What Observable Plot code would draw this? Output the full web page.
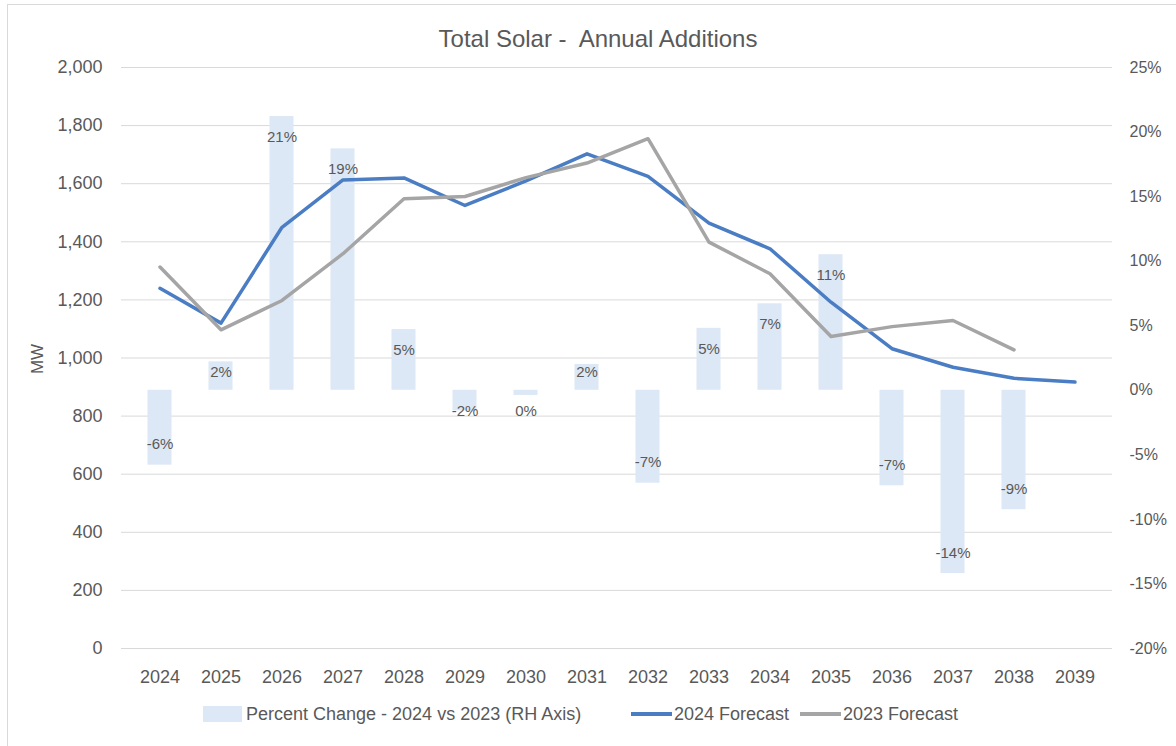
<!DOCTYPE html>
<html>
<head>
<meta charset="utf-8">
<script src="https://cdn.jsdelivr.net/npm/d3@7"></script>
<script src="https://cdn.jsdelivr.net/npm/@observablehq/plot@0.6"></script>
<style>
  body { margin: 0; background: #fff; font-family: "Liberation Sans", Arial, sans-serif; color: #595959; }
  #wrap { position: relative; width: 1176px; height: 746px; overflow: hidden; }
  #frame { position: absolute; left: 7px; top: 4px; width: 1180px; height: 750px; border: 1px solid #d9d9d9; box-sizing: border-box; }
  #title { position: absolute; left: 0; width: 1196px; top: 27px; text-align: center; font-size: 24px; line-height: 24px; white-space: pre; }
  #ylabel { position: absolute; left: 37px; top: 359px; font-size: 17px; line-height: 17px; transform: translate(-50%, -50%) rotate(-90deg); white-space: nowrap; }
  #chart { position: absolute; left: 0; top: 0; }
  .leg { position: absolute; top: 705px; font-size: 18px; line-height: 18px; white-space: pre; }
  .sw { position: absolute; }
</style>
</head>
<body>
<div id="wrap">
  <div id="frame"></div>
  <div id="chart"></div>
  <div id="title">Total Solar -  Annual Additions</div>
  <div id="ylabel">MW</div>
  <div class="sw" style="left:203px;top:706px;width:39px;height:16px;background:#dde8f6"></div>
  <div class="leg" style="left:246px">Percent Change - 2024 vs 2023 (RH Axis)</div>
  <div class="sw" style="left:631px;top:712px;width:41px;height:4px;background:#4a7dc3"></div>
  <div class="leg" style="left:674px">2024 Forecast</div>
  <div class="sw" style="left:800px;top:712px;width:41px;height:4px;background:#a5a5a5"></div>
  <div class="leg" style="left:843px">2023 Forecast</div>
</div>
<script>
const years = ["2024","2025","2026","2027","2028","2029","2030","2031","2032","2033","2034","2035","2036","2037","2038","2039"];
const pctChange = [-5.8, 2.2, 21.2, 18.7, 4.7, -1.6, -0.4, 2.0, -7.2, 4.8, 6.7, 10.5, -7.4, -14.2, -9.25];
const forecast2024 = [1240, 1120, 1450, 1613, 1620, 1525, 1610, 1703, 1625, 1464, 1376, 1192, 1032, 968, 930, 917];
const forecast2023 = [1313, 1097, 1198, 1359, 1548, 1556, 1621, 1671, 1755, 1399, 1290, 1074, 1108, 1129, 1028];
const mwTicks = [0, 200, 400, 600, 800, 1000, 1200, 1400, 1600, 1800, 2000];
const pctTicks = [-20, -15, -10, -5, 0, 5, 10, 15, 20, 25];

const PMIN = -20, PMAX = 25, MWMAX = 2000;
const toMW = p => (p - PMIN) / (PMAX - PMIN) * MWMAX;
const toPct = m => m / MWMAX * (PMAX - PMIN) + PMIN;

const bars = pctChange.map((pct, i) => ({year: years[i], pct}));
const line24 = forecast2024.map((mw, i) => ({year: years[i], mw}));
const line23 = forecast2023.map((mw, i) => ({year: years[i], mw}));

const labelPos = p => p >= 0 ? Math.max(p - 1.6, 1.4) : Math.min(p + 1.6, -1.6);

const chart = Plot.plot({
  width: 1176,
  height: 700,
  marginLeft: 121,
  marginRight: 64,
  marginTop: 67,
  marginBottom: 52,
  style: {fontFamily: "'Liberation Sans', Arial, sans-serif", color: "#595959", background: "transparent"},
  x: {type: "band", domain: years, padding: 0},
  y: {domain: [0, MWMAX]},
  marks: [
    Plot.gridY(mwTicks, {stroke: "#d9d9d9", strokeOpacity: 1, strokeWidth: 1}),
    Plot.barY(bars, {x: "year", y1: () => toMW(0), y2: d => toMW(d.pct), fill: "#dde8f6", insetLeft: 18.5, insetRight: 18.5}),
    Plot.line(line24, {x: "year", y: "mw", stroke: "#4a7dc3", strokeWidth: 3.5}),
    Plot.line(line23, {x: "year", y: "mw", stroke: "#a5a5a5", strokeWidth: 3.5}),
    Plot.text(bars, {x: "year", y: d => toMW(labelPos(d.pct)), text: d => `${Math.round(d.pct)}%`, fontSize: 15, fill: "#595959"}),
    Plot.axisY(mwTicks, {anchor: "left", tickSize: 0, tickPadding: 19, tickFormat: d3.format(","), fontSize: 18, fill: "#595959", label: null}),
    Plot.axisY(pctTicks.map(toMW), {anchor: "right", tickSize: 0, tickPadding: 17, tickFormat: d => `${Math.round(toPct(d))}%`, fontSize: 16, fill: "#595959", label: null}),
    Plot.axisX({tickSize: 0, tickPadding: 22, fontSize: 18, fill: "#595959", label: null})
  ]
});
document.getElementById("chart").appendChild(chart);
</script>
</body>
</html>
